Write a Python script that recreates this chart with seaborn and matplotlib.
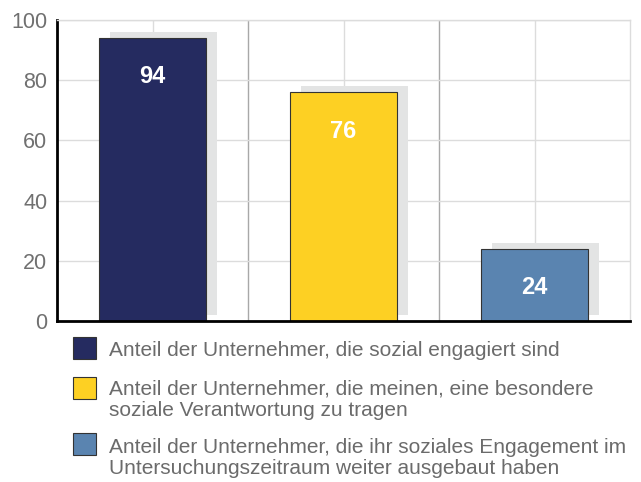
import matplotlib
matplotlib.use("Agg")
import matplotlib.pyplot as plt
import matplotlib.patheffects as pe
from matplotlib.patches import Rectangle
import pandas as pd
import seaborn as sns

# data
categories = ["engagiert", "verantwortung", "ausgebaut"]
values = [94, 76, 24]
legend_labels = [
    "Anteil der Unternehmer, die sozial engagiert sind",
    "Anteil der Unternehmer, die meinen, eine besondere\nsoziale Verantwortung zu tragen",
    "Anteil der Unternehmer, die ihr soziales Engagement im\nUntersuchungszeitraum weiter ausgebaut haben",
]
colors = ["#252b60", "#fdd023", "#5a84b0"]
y_ticks = [0, 20, 40, 60, 80, 100]

df = pd.DataFrame({"cat": categories, "val": values})

sns.set_style("white")
plt.rcParams["font.family"] = ["Liberation Sans", "DejaVu Sans"]

W, H = 641, 482
fig = plt.figure(figsize=(W / 100, H / 100), dpi=100)
ax = fig.add_axes([57 / W, 1 - 321 / H, (630 - 57) / W, (321 - 20) / H])

sns.barplot(data=df, x="cat", y="val", hue="cat", palette=colors, legend=False,
            width=0.56, edgecolor="#333333", linewidth=0.8, saturation=1, ax=ax)

# grey drop shadow behind each bar
for p in ax.patches:
    p.set_path_effects([pe.SimplePatchShadow(offset=(8, 4.3), shadow_rgbFace="#e3e4e4", alpha=1),
                        pe.Normal()])

# value labels inside bars
for i, v in enumerate(values):
    ax.annotate(str(v), xy=(i, v), xytext=(0, -28), textcoords="offset points",
                ha="center", va="center", color="white", fontsize=17, fontweight="bold")

ax.set_xlim(-0.5, 2.5)
ax.set_ylim(0, 100)
ax.set_yticks(y_ticks)
ax.set_xticks([0, 1, 2])
ax.set_xticks([0.5, 1.5], minor=True)
ax.set_axisbelow(True)
ax.grid(axis="x", which="major", color="#dcdcdc", lw=1)
ax.grid(axis="x", which="minor", color="#a8a8a8", lw=1)
ax.grid(axis="y", which="major", color="#dcdcdc", lw=1)
ax.tick_params(axis="x", which="both", length=0, labelbottom=False)
ax.tick_params(axis="y", length=0, pad=7, labelsize=15.5, labelcolor="#707070")
ax.set_xlabel("")
ax.set_ylabel("")

for s in ["left", "bottom"]:
    ax.spines[s].set_color("black")
    ax.spines[s].set_linewidth(2)
for s in ["top", "right"]:
    ax.spines[s].set_color("#dcdcdc")
    ax.spines[s].set_linewidth(1)

# legend below the plot (baseline given for the last line of each entry)
patch_tops = [337, 377, 433]
text_baselines = [356, 416, 474]
for lab, col, top, base in zip(legend_labels, colors, patch_tops, text_baselines):
    fig.add_artist(Rectangle((73 / W, 1 - (top + 22) / H), 23 / W, 22 / H,
                             transform=fig.transFigure, facecolor=col,
                             edgecolor="#333333", lw=0.8))
    fig.text(109 / W, 1 - base / H, lab, ha="left", va="baseline", fontsize=15,
             color="#6b6b6b", linespacing=1.15)

fig.savefig("out.png", dpi=100)
